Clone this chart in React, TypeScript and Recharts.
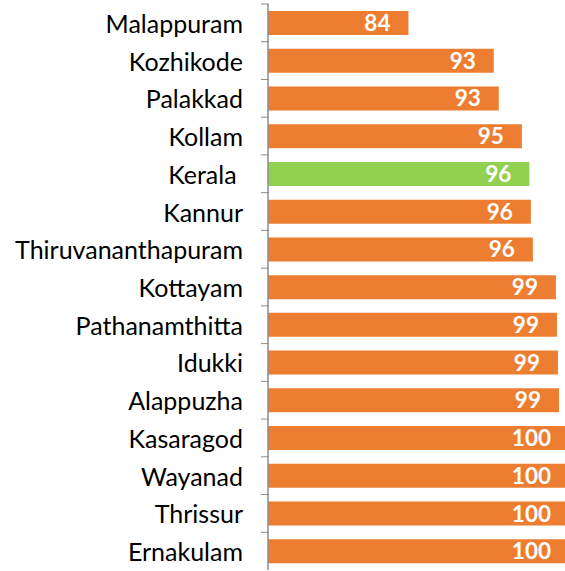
import React from "react";
import { BarChart, Bar, XAxis, YAxis, Cell, LabelList } from "recharts";

const districts = [
  "Malappuram",
  "Kozhikode",
  "Palakkad",
  "Kollam",
  "Kerala\u00A0",
  "Kannur",
  "Thiruvananthapuram",
  "Kottayam",
  "Pathanamthitta",
  "Idukki",
  "Alappuzha",
  "Kasaragod",
  "Wayanad",
  "Thrissur",
  "Ernakulam",
];
const values = [84.0, 92.5, 93.0, 95.3, 96.05, 96.2, 96.4, 98.7, 98.8, 98.9, 99.0, 100, 100, 100, 100];
const highlight = "Kerala\u00A0";

const ORANGE = "#ED7D31";
const GREEN = "#92D050";
const AXIS = "#8C8C8C";
const FONT = "Lato, 'Open Sans', sans-serif";

const data = districts.map((name, i) => ({ name, value: values[i] }));

const CHART_W = 569;
const CHART_H = 570;
const TOP = 4;
const BOTTOM = 0;
const HALF_BAND = (CHART_H - TOP - BOTTOM) / districts.length / 2;

const Tick = (props: any) => {
  const { x, y, payload } = props;
  return (
    <g>
      <line x1={x + 1} x2={x + 9} y1={y - HALF_BAND} y2={y - HALF_BAND} stroke={AXIS} strokeWidth={1} />
      <text
        x={x - 17}
        y={y}
        textAnchor="end"
        dominantBaseline="central"
        fontFamily={FONT}
        fontSize={25}
        fill="#000"
      >
        {payload.value}
      </text>
    </g>
  );
};

export default function App() {
  return (
    <div style={{ position: "fixed", left: 0, top: 0, width: 565, height: 571, overflow: "hidden", background: "#fff" }}>
      <BarChart
        width={CHART_W}
        height={CHART_H}
        data={data}
        layout="vertical"
        margin={{ top: TOP, right: 0, bottom: BOTTOM, left: 0 }}
        barSize={24}
      >
        <XAxis type="number" domain={[70, 100]} hide allowDataOverflow />
        <YAxis
          type="category"
          dataKey="name"
          width={268}
          axisLine={{ stroke: AXIS, strokeWidth: 1.5 }}
          tickLine={false}
          tick={<Tick />}
          interval={0}
        />
        <Bar dataKey="value" isAnimationActive={false}>
          {data.map((d) => (
            <Cell key={d.name} fill={d.name === highlight ? GREEN : ORANGE} />
          ))}
          <LabelList
            dataKey="value"
            position="insideRight"
            offset={18}
            formatter={(v: any) => Math.round(Number(v))}
            fill="#fff"
            fontFamily={FONT}
            fontWeight="bold"
            fontSize={22.5}
          />
        </Bar>
      </BarChart>
    </div>
  );
}
